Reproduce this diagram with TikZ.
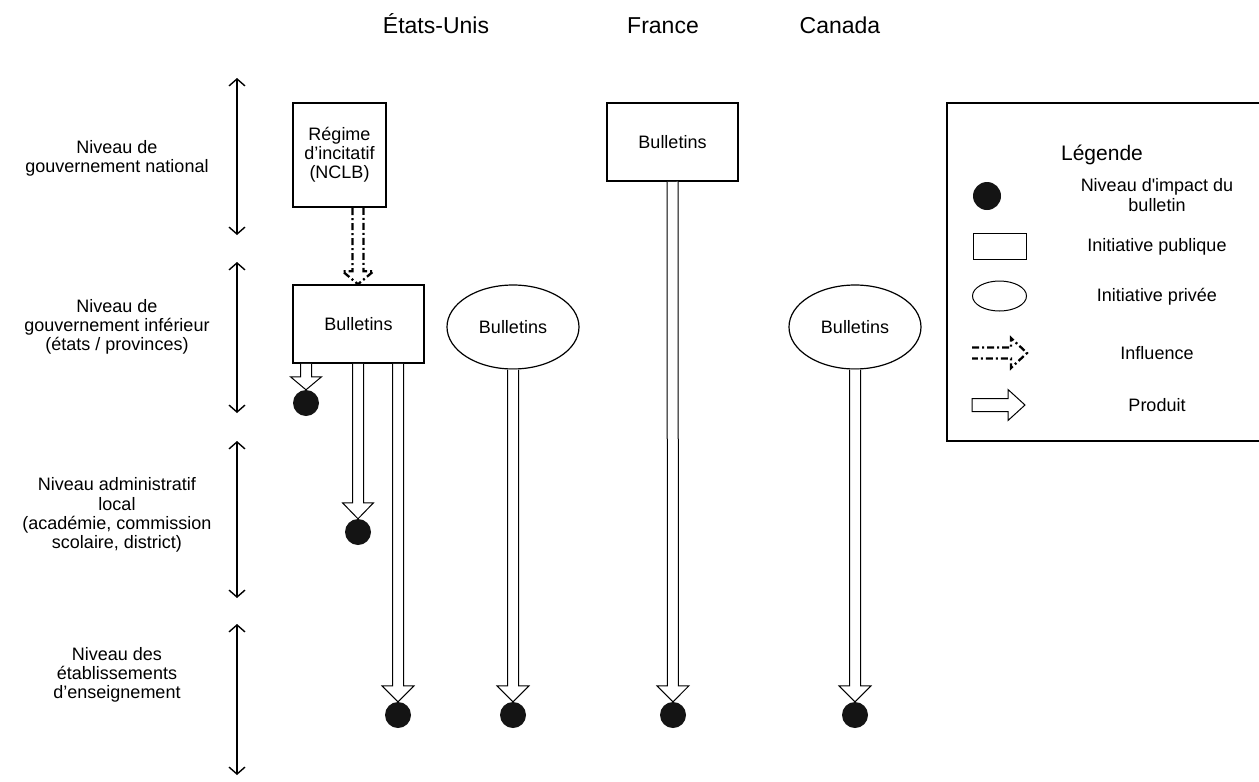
\documentclass[tikz,border=0pt]{standalone}
\usepackage{fontspec}
\setmainfont{Liberation Sans}
\usetikzlibrary{arrows.meta,shapes.geometric,calc}

% block arrow helper: computes angle/length between two points
\newcommand\blkcalc[2]{%
  \path let \p1=(#1), \p2=(#2) in \pgfextra{%
    \pgfmathsetmacro\blkangtmp{atan2(\y2-\y1,\x2-\x1)}%
    \pgfmathsetmacro\blklentmp{veclen(\x2-\x1,\y2-\y1)}%
    \xdef\blkang{\blkangtmp}\xdef\blklen{\blklentmp}%
    \xdef\blkx{\x1}\xdef\blky{\y1}};}
% open block arrow: [style]{start}{tip}{half shaft}{half head}{head length}
\newcommand\blockarr[6][]{%
  \blkcalc{#2}{#3}%
  \pgfmathsetmacro\blkbase{\blklen-#6}%
  \draw[#1, shift={(\blkx,\blky)}, rotate=\blkang]
    (0pt,#4pt) -- (\blkbase pt,#4pt) -- (\blkbase pt,#5pt) -- (\blklen pt,0pt)
    -- (\blkbase pt,-#5pt) -- (\blkbase pt,-#4pt) -- (0pt,-#4pt);}
% closed block arrow
\newcommand\blockarrc[6][]{%
  \blkcalc{#2}{#3}%
  \pgfmathsetmacro\blkbase{\blklen-#6}%
  \draw[#1, shift={(\blkx,\blky)}, rotate=\blkang]
    (0pt,#4pt) -- (\blkbase pt,#4pt) -- (\blkbase pt,#5pt) -- (\blklen pt,0pt)
    -- (\blkbase pt,-#5pt) -- (\blkbase pt,-#4pt) -- (0pt,-#4pt) -- cycle;}

\begin{document}
\begin{tikzpicture}[x=1pt,y=-1pt,
  txt/.style={font=\fontsize{18}{19.2}\selectfont, align=center, inner sep=0pt},
  hdr/.style={font=\fontsize{23}{26}\selectfont, inner sep=0pt, anchor=base},
  lgd/.style={font=\fontsize{21}{24}\selectfont, inner sep=0pt},
  pubbox/.style={draw, line width=1.5pt, txt},
  privell/.style={draw, ellipse, line width=1.2pt, txt},
  dot/.style={circle, fill=black!92, minimum size=26pt, inner sep=0pt},
  level/.style={line width=1.4pt, {Straight Barb[length=7pt,width=16pt]}-{Straight Barb[length=7pt,width=16pt]}},
  prod/.style={line width=1pt, fill=white},
  infl/.style={line width=2.3pt, dash pattern=on 7pt off 3pt on 2pt off 3pt},
]
\useasboundingbox (0,0) rectangle (1259,782);

% column headers
\node[hdr] (hus) at (436,33) {États-Unis};
\node[hdr] (hfr) at (663,33) {France};
\node[hdr] (hca) at (840,33) {Canada};

% level arrows
\coordinate (l1t) at (237,78);  \coordinate (l1b) at (237,235);
\coordinate (l2t) at (237,262); \coordinate (l2b) at (237,413);
\coordinate (l3t) at (237,441); \coordinate (l3b) at (237,598);
\coordinate (l4t) at (237,624); \coordinate (l4b) at (237,775);
\draw[level] (l1t) -- (l1b);
\draw[level] (l2t) -- (l2b);
\draw[level] (l3t) -- (l3b);
\draw[level] (l4t) -- (l4b);

% level labels
\node[txt] (lab1) at (117,158) {Niveau de\\gouvernement national};
\node[txt] (lab2) at (117,327) {Niveau de\\gouvernement inférieur\\(états / provinces)};
\node[txt] (lab3) at (117,515) {Niveau administratif\\local\\(académie, commission\\scolaire, district)};
\node[txt] (lab4) at (117,675) {Niveau des\\établissements\\d’enseignement};

% initiatives
\node[pubbox, minimum width=93pt, minimum height=104pt] (nclb) at (339.5,155) {Régime\\d’incitatif\\(NCLB)};
\node[pubbox, minimum width=131pt, minimum height=78pt] (usb) at (358.5,324) {Bulletins};
\node[privell, minimum width=132pt, minimum height=84pt] (use) at (513,327) {Bulletins};
\node[pubbox, minimum width=131pt, minimum height=78pt] (frb) at (672.5,142) {Bulletins};
\node[privell, minimum width=132pt, minimum height=84pt] (cae) at (855,327) {Bulletins};

% impact dots
\node[dot] (d1) at (306,403) {};
\node[dot] (d2) at (358,532) {};
\node[dot] (d3) at (398,715) {};
\node[dot] (d4) at (513,715) {};
\node[dot] (d5) at (673,715) {};
\node[dot] (d6) at (855,715) {};

% influence arrow
\coordinate (infs) at (nclb.south -| 358,0);
\coordinate (infe) at (usb.north -| 358,0);
\blockarr[infl]{infs}{infe}{5.5}{15.5}{13}

% product arrows
\blockarr[prod]{usb.south -| d1}{d1.north}{5.5}{15.5}{13}
\blockarr[prod]{usb.south -| d2}{d2.north}{5.5}{15.5}{16}
\blockarr[prod]{usb.south -| d3}{d3.north}{5.5}{16}{16}
\blockarr[prod]{use.south}{d4.north}{5.5}{16}{16}
\blockarr[prod]{frb.south}{d5.north}{5.5}{16}{16}
\blockarr[prod]{cae.south}{d6.north}{5.5}{16}{16}

% legend
\coordinate (lgtr) at (1259,103);
\coordinate (lgtl) at (947,103);
\coordinate (lgbl) at (947,441);
\coordinate (lgbr) at (1259,441);
\draw[line width=1.3pt] (lgtr) -- (lgtl) -- (lgbl) -- (lgbr);
\node[lgd] (lgt) at (1102,155) {Légende};
\node[dot, minimum size=28pt] (ldot) at (987,196) {};
\node[txt] (ldott) at (1157,195) {Niveau d\textquotesingle impact du\\bulletin};
\node[draw, line width=1pt, minimum width=53pt, minimum height=26pt, inner sep=0pt] (lrect) at (999.5,246) {};
\node[txt] (lrectt) at (1157,247) {Initiative publique};
\node[draw, ellipse, line width=1pt, minimum width=54pt, minimum height=30pt, inner sep=0pt] (lell) at (999.5,296) {};
\node[txt] (lellt) at (1157,297) {Initiative privée};
\coordinate (linfs) at (972,353);
\coordinate (linfe) at (1027,353);
\blockarr[infl]{linfs}{linfe}{5.5}{15}{16}
\node[txt] (linft) at (1157,353) {Influence};
\coordinate (lprs) at (972,405);
\coordinate (lpre) at (1025,405);
\blockarrc[prod]{lprs}{lpre}{6.5}{15.5}{17}
\node[txt] (lprt) at (1157,405) {Produit};
\end{tikzpicture}
\end{document}
